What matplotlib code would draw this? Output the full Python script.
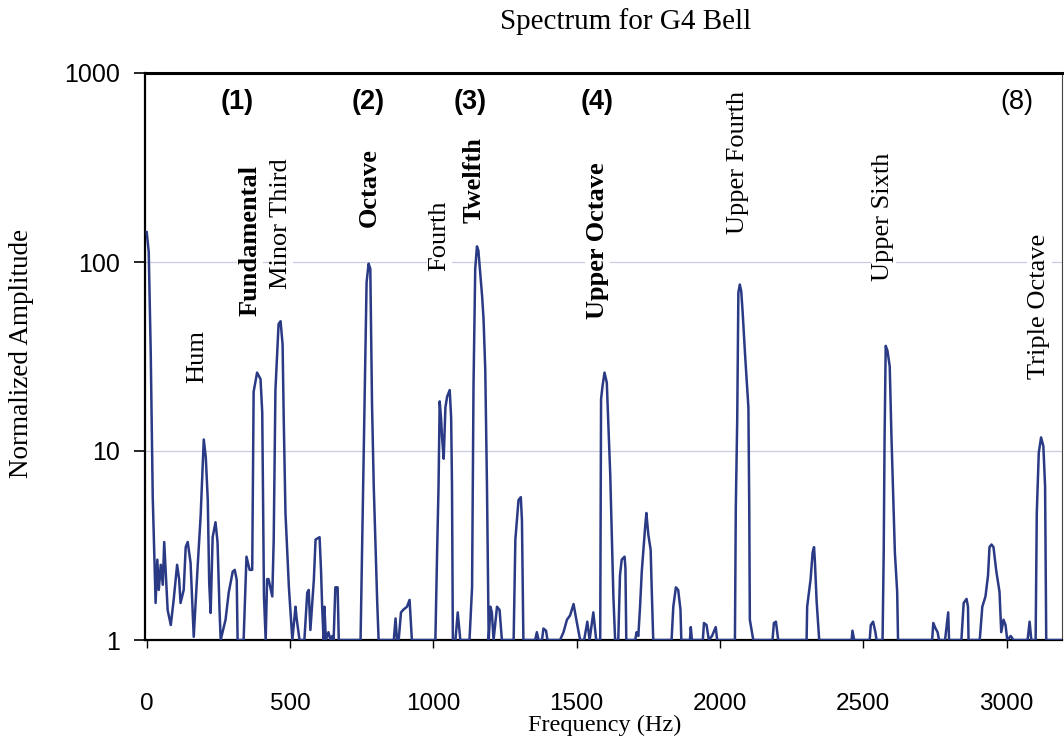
import matplotlib
matplotlib.use("Agg")
import matplotlib.pyplot as plt
from matplotlib.ticker import NullLocator

plt.rcParams['font.family'] = ['Liberation Sans', 'DejaVu Sans']

# spectrum: frequency (Hz) and normalized amplitude (1 = floor)
freq_hz = [
    0, 7, 14, 21, 31, 37, 42, 49, 56, 61, 66, 73, 84, 94, 106, 113, 118, 129, 136, 143,
    153, 164, 178, 188, 199, 206, 213, 218, 223, 230, 240, 247, 254, 258, 275, 286, 300,
    307, 314, 317, 338, 348, 359, 368, 373, 385, 397, 403, 409, 415, 420, 425, 438, 443,
    449, 460, 467, 474, 478, 484, 496, 508, 519, 523, 533, 550, 560, 565, 571, 583, 589,
    603, 608, 612, 617, 620, 625, 634, 641, 647, 652, 658, 666, 670, 746, 751, 757, 767,
    774, 780, 786, 792, 804, 809, 862, 868, 873, 879, 887, 896, 908, 917, 925, 1007, 1013,
    1018, 1022, 1027, 1030, 1036, 1042, 1048, 1057, 1062, 1065, 1068, 1077, 1085, 1094,
    1126, 1135, 1140, 1146, 1152, 1157, 1170, 1175, 1181, 1187, 1193, 1199, 1204, 1210,
    1222, 1231, 1239, 1280, 1286, 1297, 1305, 1309, 1314, 1355, 1361, 1367, 1379, 1384,
    1393, 1398, 1442, 1454, 1466, 1477, 1489, 1500, 1512, 1526, 1537, 1545, 1558, 1568,
    1582, 1585, 1590, 1597, 1605, 1617, 1628, 1634, 1645, 1651, 1657, 1667, 1670, 1673,
    1704, 1709, 1715, 1721, 1727, 1739, 1743, 1750, 1758, 1762, 1767, 1831, 1837, 1846,
    1854, 1862, 1865, 1895, 1898, 1902, 1940, 1944, 1953, 1961, 1972, 1985, 1990, 2052,
    2055, 2060, 2064, 2069, 2074, 2079, 2087, 2099, 2102, 2104, 2116, 2183, 2188, 2195,
    2203, 2302, 2304, 2316, 2323, 2328, 2331, 2337, 2346, 2459, 2462, 2468, 2522, 2526,
    2534, 2542, 2546, 2567, 2571, 2574, 2578, 2584, 2592, 2598, 2610, 2618, 2621, 2740,
    2744, 2752, 2759, 2764, 2785, 2796, 2799, 2842, 2850, 2860, 2865, 2867, 2906, 2915,
    2926, 2935, 2940, 2947, 2954, 2964, 2975, 2981, 2989, 2996, 3002, 3014, 3024, 3073,
    3080, 3086, 3101, 3105, 3112, 3120, 3128, 3134, 3138, 3190,
]
amplitude = [
    144, 113, 33, 5.7, 1.57, 2.66, 1.84, 2.5, 1.96, 3.3, 2.35, 1.44, 1.2, 1.63, 2.5, 2.1, 1.57, 1.84, 3.1, 3.3,
    2.56, 1.04, 2.5, 4.5, 11.5, 9.3, 5.5, 2.0, 1.39, 3.5, 4.2, 3.3, 1.44, 1.0, 1.28, 1.78, 2.3,
    2.35, 2.08, 1.0, 1.0, 2.76, 2.35, 2.35, 20.6, 26, 24, 16, 1.7, 1.0, 2.1, 2.1, 1.7, 3.4,
    21, 47, 48.6, 36.6, 14.7, 4.7, 1.9, 1.0, 1.5, 1.3, 1.0, 1.0, 1.78, 1.84, 1.13, 2.08, 3.4,
    3.5, 2.35, 1.5, 1.0, 1.5, 1.0, 1.1, 1.0, 1.05, 1.0, 1.9, 1.9, 1.0, 1.0, 2.9, 9.8, 78,
    98, 92, 17.6, 6.5, 1.6, 1.0, 1.0, 1.3, 1.0, 1.0, 1.4, 1.45, 1.5, 1.63, 1.0, 1.0, 2.9,
    6.5, 18.3, 14.7, 12, 9.1, 17, 19.4, 21, 15, 6.5, 1.0, 1.0, 1.4, 1.0,
    1.0, 1.9, 22, 92, 121, 115, 66, 50, 27, 6.5, 1.0, 1.5, 1.4, 1.0,
    1.5, 1.44, 1.0, 1.0, 3.4, 5.5, 5.7, 4.3, 1.0, 1.0, 1.1, 1.0, 1.0, 1.15,
    1.12, 1.0, 1.0, 1.1, 1.28, 1.35, 1.55, 1.25, 1.0, 1.0, 1.25, 1.0, 1.4, 1.0,
    1.0, 18.8, 22, 26, 23, 7.5, 1.7, 1.0, 1.0, 2.2, 2.66, 2.76, 2.4, 1.0,
    1.0, 1.1, 1.05, 1.5, 2.3, 4.0, 4.7, 3.6, 3.0, 1.8, 1.0, 1.0, 1.5, 1.9,
    1.84, 1.45, 1.0, 1.0, 1.17, 1.0, 1.0, 1.23, 1.2, 1.0, 1.05, 1.17, 1.0, 1.0,
    5.0, 14.7, 69, 76, 70, 54, 33, 17, 4.9, 1.28, 1.0, 1.0, 1.23, 1.25,
    1.0, 1.0, 1.5, 2.1, 2.9, 3.1, 2.6, 1.6, 1.0, 1.0, 1.12, 1.0, 1.0, 1.2,
    1.25, 1.1, 1.0, 1.0, 2.9, 11.5, 36, 34, 28, 12, 2.9, 1.8, 1.0, 1.0,
    1.23, 1.15, 1.1, 1.0, 1.0, 1.4, 1.0, 1.0, 1.57, 1.65, 1.5, 1.0, 1.0, 1.5,
    1.7, 2.2, 3.1, 3.2, 3.1, 2.3, 1.8, 1.1, 1.28, 1.2, 1.0, 1.05, 1.0, 1.0,
    1.25, 1.0, 1.0, 4.7, 9.8, 11.8, 10.6, 6.5, 1.0, 1.0,
]

# partial names (rotated) and the label anchor: frequency, amplitude at text bottom, bold?
partial_names = ['Hum', 'Fundamental', 'Minor Third', 'Octave', 'Fourth', 'Twelfth',
                 'Upper Octave', 'Upper Fourth', 'Upper Sixth', 'Triple Octave']
partial_freq = [176, 360, 468, 775, 1022, 1141, 1573, 2061, 2570, 3114]
partial_amp = [23, 52, 72, 153, 90, 161, 50, 141, 79, 24]
partial_bold = [False, True, False, True, False, True, True, False, False, False]

# numbered modes along the top
mode_names = ['(1)', '(2)', '(3)', '(4)', '(8)']
mode_freq = [315, 772, 1127, 1573, 3037]
mode_bold = [True, True, True, True, False]

x_ticks = [0, 500, 1000, 1500, 2000, 2500, 3000]
y_ticks = [1, 10, 100, 1000]

fig = plt.figure(figsize=(10.64, 7.38), dpi=100)
ax = fig.add_axes([145 / 1064, 98 / 738, 917 / 1064, 567 / 738])

ax.plot(freq_hz, amplitude, color='#2a3a85', lw=1.8, zorder=3)

ax.set_yscale('log')
ax.set_ylim(1, 1000)
ax.set_xlim(-6, 3193)
ax.set_yticks(y_ticks)
ax.set_yticklabels([str(v) for v in y_ticks])
ax.yaxis.set_minor_locator(NullLocator())
ax.set_xticks(x_ticks)
ax.set_xticklabels([str(v) for v in x_ticks])
ax.tick_params(axis='y', direction='out', length=8, width=1.2, pad=10, labelsize=18)
ax.tick_params(axis='x', direction='out', length=6, width=1.0, pad=32, labelsize=17.5)
ax.yaxis.grid(True, color='#c9cce2', lw=0.9)
ax.set_axisbelow(True)

for side, lw in [('top', 2.2), ('left', 1.6), ('bottom', 1.6), ('right', 0.8)]:
    ax.spines[side].set_linewidth(lw)
ax.spines['right'].set_color('#444444')

serif = ['Liberation Serif', 'DejaVu Serif']
for name, f, a, b in zip(partial_names, partial_freq, partial_amp, partial_bold):
    ax.text(f, a, name, rotation=90, ha='center', va='bottom', fontsize=19,
            family=serif, fontweight='bold' if b else 'normal', zorder=4,
            bbox=dict(facecolor='white', edgecolor='none', pad=1))

for name, f, b in zip(mode_names, mode_freq, mode_bold):
    ax.text(f, 700, name, ha='center', va='center', fontsize=19.5,
            fontweight='bold' if b else 'normal')

fig.text(626 / 1064, 1 - 22 / 738, 'Spectrum for G4 Bell', ha='center', va='center',
         fontsize=21, family=serif)
fig.text(605 / 1064, 1 - 725 / 738, 'Frequency (Hz)', ha='center', va='center',
         fontsize=17.5, family=serif)
fig.text(22 / 1064, 1 - 353 / 738, 'Normalized Amplitude', ha='center', va='center',
         rotation=90, fontsize=19.5, family=serif)

fig.savefig('out.png', dpi=100)
